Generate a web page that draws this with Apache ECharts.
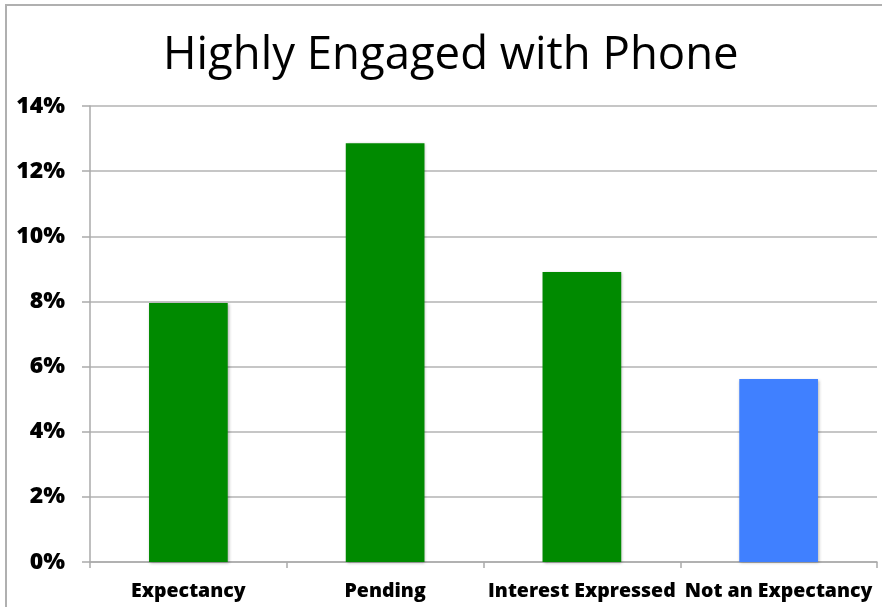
<!DOCTYPE html>
<html>
<head>
<meta charset="utf-8">
<script src="https://cdn.jsdelivr.net/npm/echarts@6/dist/echarts.min.js"></script>
<style>
  html, body { margin: 0; padding: 0; background: #fff; }
  #chart { width: 882px; height: 607px; }
</style>
</head>
<body>
<div id="chart"></div>
<script>
// Share of respondents highly engaged with phone, by expectancy group (%)
const categories = ['Expectancy', 'Pending', 'Interest Expressed', 'Not an Expectancy'];
const engagedPct = [7.95, 12.86, 8.9, 5.62];
const yTicks = [0, 2, 4, 6, 8, 10, 12, 14];

// Groups shown in green; the comparison group is blue
const groupColor = ['#008a00', '#008a00', '#008a00', '#4080ff'];

const chart = echarts.init(document.getElementById('chart'), null, { renderer: 'canvas' });

chart.setOption({
  backgroundColor: '#fff',
  animation: false,
  title: {
    text: 'Highly Engaged with Phone',
    left: 158,
    top: 28,
    textStyle: {
      fontFamily: 'Open Sans',
      fontWeight: 'normal',
      fontSize: 45.5,
      color: '#000'
    }
  },
  graphic: [{
    type: 'rect',
    shape: { x: 6, y: 5, width: 900, height: 640 },
    style: { fill: 'none', stroke: '#b0b0b0', lineWidth: 2 },
    silent: true,
    z: -1
  }],
  grid: {
    left: 90,
    right: 5,
    top: 106,
    bottom: 45,
    containLabel: false
  },
  xAxis: {
    type: 'category',
    data: categories,
    boundaryGap: true,
    axisLine: { lineStyle: { color: '#aaaaaa', width: 1.5 } },
    axisTick: { show: true, length: 6, alignWithLabel: false, lineStyle: { color: '#aaaaaa', width: 1.5 } },
    axisLabel: {
      margin: 19,
      fontFamily: 'Open Sans',
      fontWeight: 800,
      fontSize: 19.5,
      color: '#000',
      interval: 0
    }
  },
  yAxis: {
    type: 'value',
    min: yTicks[0],
    max: yTicks[yTicks.length - 1],
    interval: 2,
    axisLine: { show: true, lineStyle: { color: '#aaaaaa', width: 1.5 } },
    axisTick: { show: true, length: 8, lineStyle: { color: '#aaaaaa', width: 1.5 } },
    splitLine: { show: true, lineStyle: { color: '#b3b3b3', width: 1.5 } },
    axisLabel: {
      margin: 25,
      fontFamily: 'Open Sans',
      fontWeight: 800,
      fontSize: 23,
      color: '#000',
      formatter: v => v + '%'
    }
  },
  series: [{
    type: 'bar',
    barWidth: '40%',
    data: engagedPct.map((v, i) => ({
      value: v,
      itemStyle: { color: groupColor[i] }
    })),
    itemStyle: {
      shadowBlur: 3,
      shadowColor: 'rgba(0,0,0,0.3)',
      shadowOffsetX: 1,
      shadowOffsetY: 1
    }
  }]
});
</script>
</body>
</html>
